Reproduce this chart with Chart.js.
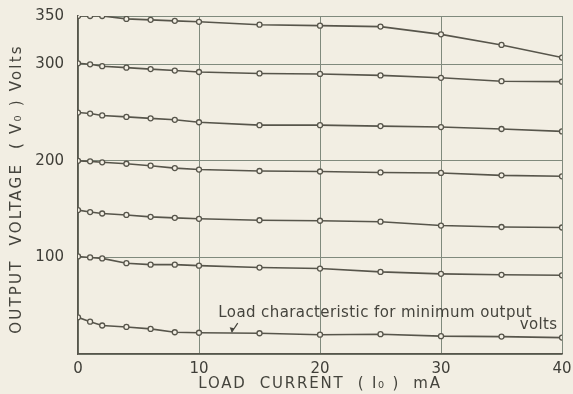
<!DOCTYPE html>
<html>
<head>
<meta charset="utf-8">
<script src="https://cdn.jsdelivr.net/npm/chart.js@4/dist/chart.umd.min.js"></script>
<style>
  html, body { margin: 0; padding: 0; background: #f2eee3; }
  #wrap { width: 573px; height: 394px; position: relative; }
</style>
</head>
<body>
<div id="wrap"><canvas id="loadChart"></canvas></div>
<script>
// Data (load current in mA, output voltage in volts)
const current = [0, 1, 2, 4, 6, 8, 10, 15, 20, 25, 30, 35, 40];
const v350 = [350, 350, 350, 347, 346, 345, 344, 341, 340, 339, 331, 320, 307];
const v300 = [301, 300, 298, 296.5, 295, 293.5, 292, 290.5, 290, 288.5, 286, 282.5, 282];
const v250 = [250, 249, 247, 245.5, 244, 242.5, 240, 237, 237, 236, 235, 233, 230.5];
const v200 = [200, 199.5, 198.5, 197, 195, 192.5, 191, 189.5, 189, 188, 187.5, 185, 184];
const v150 = [149, 147, 145.5, 144, 142, 141, 140, 138.5, 138, 137, 133, 131.5, 131];
const v100 = [101, 100, 99, 94, 92.5, 92.5, 91.5, 89.5, 88.5, 85, 83, 82, 81.5];
const vMin = [38, 33.5, 29.5, 28, 26, 22.5, 22, 21.5, 20, 20.5, 18.5, 18, 17];
const curves = [v350, v300, v250, v200, v150, v100, vMin];
const yTicks = [0, 100, 200, 300, 350];

const ink = '#57554b';
const gridInk = '#808a7d';
const paper = '#f2eee3';

// Axis titles + the note for the bottom curve
const decorPlugin = {
  id: 'decor',
  afterDraw(chart) {
    const ctx = chart.ctx;
    const xs = chart.scales.x, ys = chart.scales.y;
    ctx.save();
    ctx.fillStyle = '#45443d';
    ctx.textAlign = 'center';
    ctx.textBaseline = 'middle';

    // y title
    ctx.save();
    ctx.translate(17, 189);
    ctx.rotate(-Math.PI / 2);
    ctx.font = '15px "DejaVu Sans"';
    ctx.letterSpacing = '2.2px';
    ctx.fillText('OUTPUT  VOLTAGE  ( V₀ ) Volts', 0, 0);
    ctx.restore();

    // x title
    ctx.font = '15px "DejaVu Sans"';
    ctx.letterSpacing = '1.8px';
    ctx.fillText('LOAD  CURRENT  ( I₀ )  mA', (xs.left + xs.right) / 2, 384);

    // note
    ctx.letterSpacing = '0.4px';
    ctx.font = '15px "DejaVu Sans"';
    ctx.textAlign = 'left';
    ctx.fillText('Load characteristic for minimum output', xs.getPixelForValue(11.6), ys.getPixelForValue(42.5));
    ctx.fillText('volts', xs.getPixelForValue(36.5), ys.getPixelForValue(30));

    // little arrow to the curve
    const ax = xs.getPixelForValue(13.2), ay = ys.getPixelForValue(32);
    const bx = xs.getPixelForValue(12.7), by = ys.getPixelForValue(22.5);
    ctx.strokeStyle = '#45443d';
    ctx.lineWidth = 1.2;
    ctx.beginPath();
    ctx.moveTo(ax, ay);
    ctx.lineTo(bx, by);
    ctx.stroke();
    ctx.beginPath();
    ctx.moveTo(bx, by);
    ctx.lineTo(bx - 2, by - 5);
    ctx.lineTo(bx + 2.5, by - 4);
    ctx.closePath();
    ctx.fillStyle = '#45443d';
    ctx.fill();
    ctx.restore();
  }
};

new Chart(document.getElementById('loadChart'), {
  type: 'line',
  data: {
    datasets: curves.map(vals => ({
      data: vals.map((v, i) => ({ x: current[i], y: v })),
      borderColor: ink,
      borderWidth: 1.6,
      pointRadius: 2.5,
      pointBorderWidth: 1.3,
      pointBackgroundColor: paper,
      pointBorderColor: ink,
      tension: 0,
      fill: false
    }))
  },
  options: {
    responsive: true,
    maintainAspectRatio: false,
    animation: false,
    layout: { padding: { top: 16, right: 11, left: 0, bottom: 0 } },
    plugins: { legend: { display: false }, tooltip: { enabled: false } },
    scales: {
      x: {
        type: 'linear',
        min: 0,
        max: 40,
        // fixed box, no extra label overflow padding
        afterFit: s => { s.height = 40; s.paddingLeft = 0; s.paddingRight = 0; },
        grid: { color: gridInk, lineWidth: 1, drawTicks: false },
        border: { color: ink, width: 1.6 },
        ticks: { stepSize: 10, padding: 6, color: '#3f3e38', font: { family: 'DejaVu Sans', size: 15 } }
      },
      y: {
        min: 0,
        max: 350,
        afterFit: s => { s.width = 78; s.paddingTop = 0; s.paddingBottom = 0; },
        afterBuildTicks: s => { s.ticks = yTicks.map(v => ({ value: v })); },
        grid: { color: gridInk, lineWidth: 1, drawTicks: false },
        border: { color: ink, width: 1.6 },
        ticks: {
          padding: 14,
          color: '#3f3e38',
          font: { family: 'DejaVu Sans', size: 15 },
          callback: v => (v === 0 ? '' : v)
        }
      }
    }
  },
  plugins: [decorPlugin]
});
</script>
</body>
</html>
